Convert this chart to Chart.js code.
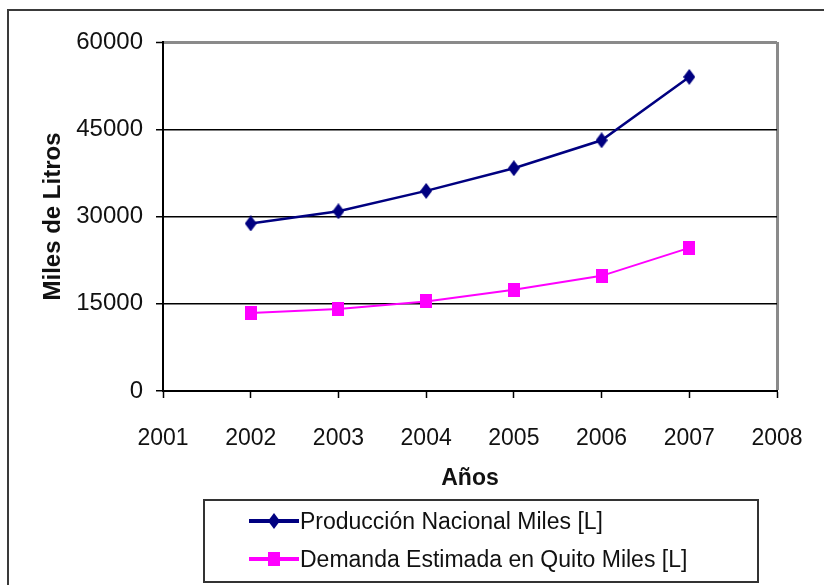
<!DOCTYPE html>
<html lang="es">
<head>
<meta charset="utf-8">
<title>Producción y demanda</title>
<script src="https://cdn.jsdelivr.net/npm/chart.js@4/dist/chart.umd.min.js"></script>
<style>
  html, body { margin: 0; padding: 0; background: #fff; overflow: hidden; }
  #wrap { position: relative; width: 824px; height: 585px; }
  #frame {
    position: absolute; left: 7px; top: 9px; width: 900px; height: 700px;
    border-left: 2px solid #3a3a3a; border-top: 2px solid #3a3a3a;
    pointer-events: none;
  }
  #chart { position: absolute; left: 0; top: 0; }
  #legend {
    position: absolute; left: 203px; top: 499px; width: 552px; height: 80px;
    border: 2px solid #333; background: #fff;
    font-family: "Liberation Sans", Arial, sans-serif; font-size: 23px; color: #111;
  }
  .row { position: absolute; left: 44px; display: flex; align-items: center; height: 30px; }
  .row canvas { display: block; margin-right: 1px; }
</style>
</head>
<body>
<div id="wrap">
  <canvas id="chart" width="824" height="585"></canvas>
  <div id="frame"></div>
  <div id="legend"></div>
</div>
<script>
// Años y series (miles de litros)
const years = [2002, 2003, 2004, 2005, 2006, 2007];
const produccion = [28800, 30900, 34400, 38300, 43100, 54000];
const demanda = [13400, 14100, 15400, 17400, 19800, 24600];
const seriesNames = ['Producción Nacional Miles [L]', 'Demanda Estimada en Quito Miles [L]'];
const yTicks = [0, 15000, 30000, 45000, 60000];
const xRange = [2001, 2008];

const FONT = '"Liberation Sans", Arial, sans-serif';
const NAVY = '#000080';
const MAGENTA = '#ff00ff';

// Marker sprites: a tall diamond and a slightly tall square
function diamond(w, h, color) {
  const c = document.createElement('canvas');
  c.width = w; c.height = h;
  const g = c.getContext('2d');
  g.fillStyle = color;
  g.beginPath();
  g.moveTo(w / 2, 0); g.lineTo(w, h / 2); g.lineTo(w / 2, h); g.lineTo(0, h / 2);
  g.closePath(); g.fill();
  return c;
}
function square(w, h, color) {
  const c = document.createElement('canvas');
  c.width = w; c.height = h;
  const g = c.getContext('2d');
  g.fillStyle = color;
  g.fillRect(0, 0, w, h);
  return c;
}
const diamondImg = diamond(12, 16, NAVY);
const squareImg = square(12, 14, MAGENTA);

const toPoints = vals => years.map((y, i) => ({ x: y, y: vals[i] }));

const datasets = [
  { label: seriesNames[0], data: toPoints(produccion), borderColor: NAVY, backgroundColor: NAVY,
    borderWidth: 2.5, pointStyle: diamondImg, marker: diamondImg },
  { label: seriesNames[1], data: toPoints(demanda), borderColor: MAGENTA, backgroundColor: MAGENTA,
    borderWidth: 2, pointStyle: squareImg, marker: squareImg }
];

const chart = new Chart(document.getElementById('chart'), {
  type: 'line',
  data: { datasets },
  options: {
    responsive: false,
    animation: false,
    events: [],
    layout: { padding: { left: 0, top: 42, right: 47, bottom: 0 } },
    elements: { line: { tension: 0 } },
    plugins: { legend: { display: false }, tooltip: { enabled: false } },
    scales: {
      x: {
        type: 'linear', min: xRange[0], max: xRange[1],
        afterBuildTicks: s => { s.ticks = []; for (let v = xRange[0]; v <= xRange[1]; v++) s.ticks.push({ value: v }); },
        afterFit: s => { s.height = 194; s.paddingLeft = 0; s.paddingRight = 0; },
        ticks: { padding: 27, color: '#111', font: { family: FONT, size: 23 }, callback: v => String(v) },
        grid: {
          tickLength: 7, tickColor: '#000', tickWidth: 1.5,
          color: c => (c.tick && c.tick.value === xRange[1]) ? '#8a8a8a' : 'rgba(0,0,0,0)',
          lineWidth: c => (c.tick && c.tick.value === xRange[1]) ? 3 : 1
        },
        border: { color: '#000', width: 2 },
        title: { display: true, text: 'Años', color: '#111', font: { family: FONT, size: 23, weight: 'bold' },
                 padding: { top: 0, bottom: 93 } }
      },
      y: {
        min: yTicks[0], max: yTicks[yTicks.length - 1],
        afterBuildTicks: s => { s.ticks = yTicks.map(v => ({ value: v })); },
        afterFit: s => { s.width = 163; s.paddingTop = 0; s.paddingBottom = 0; },
        ticks: { padding: 13, color: '#111', font: { family: FONT, size: 24 }, callback: v => String(v) },
        grid: {
          tickLength: 7, tickColor: '#000', tickWidth: 1.5,
          color: c => {
            const v = c.tick ? c.tick.value : null;
            if (v === yTicks[yTicks.length - 1]) return '#8a8a8a';
            if (v === yTicks[0]) return 'rgba(0,0,0,0)';
            return '#000';
          },
          lineWidth: c => (c.tick && c.tick.value === yTicks[yTicks.length - 1]) ? 3 : 1.5
        },
        border: { color: '#000', width: 2 },
        title: { display: true, text: 'Miles de Litros', color: '#111',
                 font: { family: FONT, size: 24, weight: 'bold' }, padding: { top: 39, bottom: 0 } }
      }
    }
  }
});

// Legend box built from the chart's datasets
const legend = document.getElementById('legend');
const rowTops = [5, 43];
chart.data.datasets.forEach((ds, i) => {
  const row = document.createElement('div');
  row.className = 'row';
  row.style.top = rowTops[i] + 'px';
  const sym = document.createElement('canvas');
  sym.width = 50; sym.height = 24;
  const g = sym.getContext('2d');
  g.strokeStyle = ds.borderColor;
  g.lineWidth = 4;
  g.beginPath(); g.moveTo(0, 12); g.lineTo(50, 12); g.stroke();
  g.drawImage(ds.marker, 25 - ds.marker.width / 2, 12 - ds.marker.height / 2);
  const txt = document.createElement('span');
  txt.textContent = ds.label;
  row.appendChild(sym);
  row.appendChild(txt);
  legend.appendChild(row);
});
</script>
</body>
</html>
